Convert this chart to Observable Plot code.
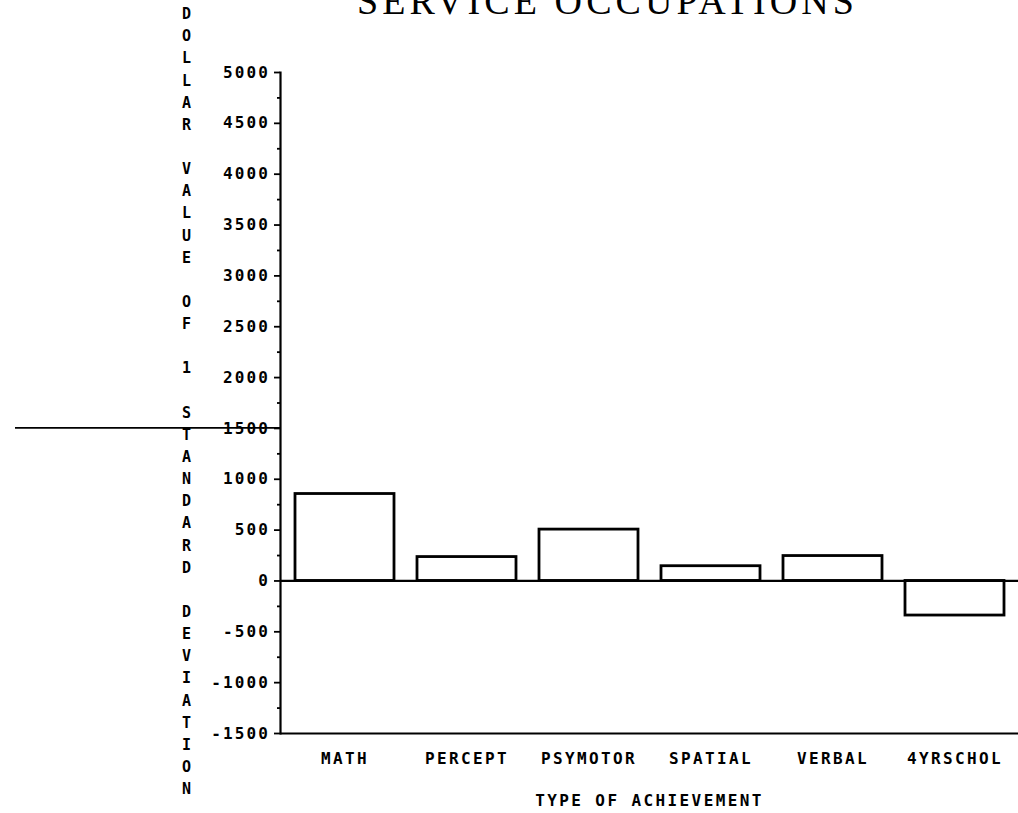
<!DOCTYPE html>
<html><head><meta charset="utf-8">
<script src="https://cdn.jsdelivr.net/npm/d3@7"></script>
<script src="https://cdn.jsdelivr.net/npm/@observablehq/plot@0.6"></script>
<style>
body{margin:0;background:#fff;overflow:hidden}
#chart{position:relative;width:1018px;height:813px;overflow:hidden}
</style>
</head><body><div id="chart"></div>
<script>
const categories = ["MATH", "PERCEPT", "PSYMOTOR", "SPATIAL", "VERBAL", "4YRSCHOL"];
const values = [855, 235, 505, 145, 245, -340];
const yTicks = [-1500, -1000, -500, 0, 500, 1000, 1500, 2000, 2500, 3000, 3500, 4000, 4500, 5000];
const yMinorTicks = [-1250, -750, -250, 250, 750, 1250, 1750, 2250, 2750, 3250, 3750, 4250, 4750];
const title = "SERVICE OCCUPATIONS";
const xLabel = "TYPE OF ACHIEVEMENT";
const yLabel = "DOLLAR VALUE OF 1 STANDARD DEVIATION";
const refLineValue = 1500;

const data = categories.map((c, i) => ({category: c, value: values[i]}));
const mono = "'DejaVu Sans Mono', monospace";
const yLabelStacked = yLabel.split("").map(ch => ch === " " ? "\u00a0" : ch).join("\n");

const refLine = (index, scales, values, dims) => {
  const ns = "http://www.w3.org/2000/svg";
  const l = document.createElementNS(ns, "line");
  const yy = scales.y(refLineValue);
  l.setAttribute("x1", dims.marginLeft - 265);
  l.setAttribute("x2", dims.marginLeft);
  l.setAttribute("y1", yy);
  l.setAttribute("y2", yy);
  l.setAttribute("stroke", "black");
  l.setAttribute("stroke-width", 1.8);
  return l;
};

const chart = Plot.plot({
  width: 1018,
  height: 813,
  marginLeft: 280,
  marginRight: 0,
  marginTop: 72,
  marginBottom: 80,
  style: {background: "white", color: "black"},
  x: {domain: categories, paddingInner: 0.19, paddingOuter: 0.1, label: null},
  y: {domain: [-1500, 5000], label: null},
  marks: [
    Plot.barY(data, {x: "category", y: "value", fill: "white", stroke: "black", strokeWidth: 2.8}),
    Plot.ruleY([0], {stroke: "black", strokeWidth: 2.2}),
    Plot.ruleY([-1500], {stroke: "black", strokeWidth: 2.2}),
    Plot.frame({anchor: "left", stroke: "black", strokeWidth: 2.2}),
    Plot.axisY(yTicks, {tickSize: 6, tickPadding: 4.6, fontSize: 16, fontFamily: mono, fontWeight: "bold",
      tickFormat: d => d < 0 ? "-" + Math.abs(d) : String(d), label: null, strokeWidth: 1.8}),
    Plot.axisY(yMinorTicks, {tickSize: 3, tickFormat: () => "", label: null, strokeWidth: 1.8}),
    Plot.axisX({tickSize: 0, tickPadding: 19, fontSize: 16, fontFamily: mono, fontWeight: "bold", label: null}),
    Plot.text([yLabelStacked], {frameAnchor: "top-left", dx: -94, dy: -69, lineAnchor: "top", textAnchor: "middle",
      lineHeight: 1.476, fontSize: 15, fontWeight: "bold", fontFamily: mono}),
    Plot.text([title], {frameAnchor: "top", dx: -42, dy: -85, fontSize: 38, fontFamily: "'Liberation Serif', serif"}),
    Plot.text([xLabel], {frameAnchor: "bottom", dy: 72, fontSize: 16, fontWeight: "bold", fontFamily: mono}),
    refLine
  ]
});
// letter spacing to match the plotter lettering
const spacing = new Map([[title, 4.1], [xLabel, 2.4]]);
chart.querySelectorAll("text").forEach(t => {
  const s = t.textContent;
  if (spacing.has(s)) t.style.letterSpacing = spacing.get(s) + "px";
});
chart.querySelectorAll('g[aria-label="x-axis tick label"] text').forEach(t => t.style.letterSpacing = "2.4px");
chart.querySelectorAll('g[aria-label="y-axis tick label"] text').forEach(t => t.style.letterSpacing = "2.1px");
document.getElementById("chart").appendChild(chart);
</script>
</body></html>
